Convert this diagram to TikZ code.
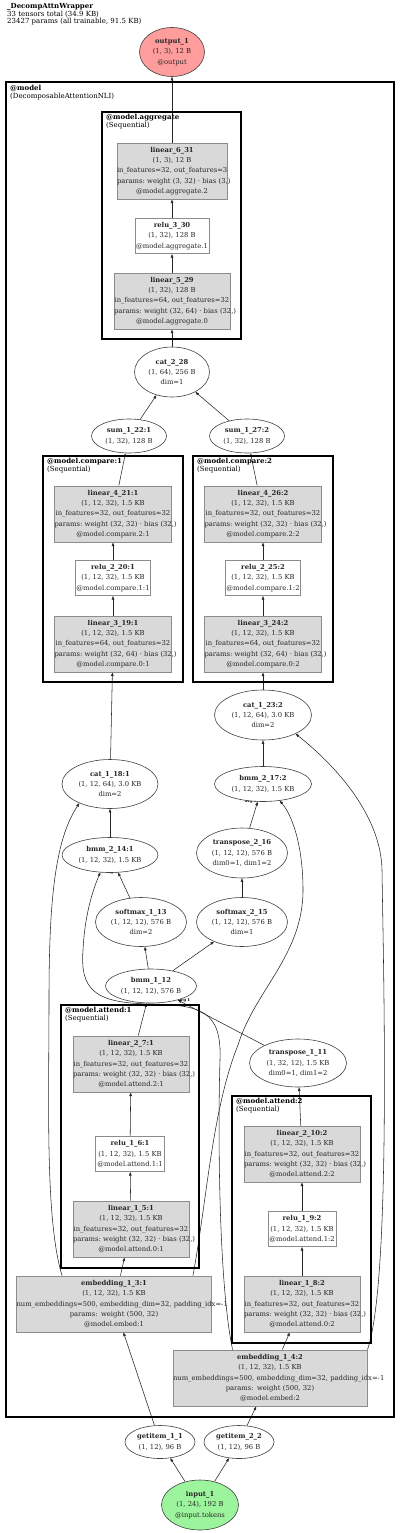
\documentclass[tikz,border=0pt]{standalone}
\usepackage{fontspec}
\setmainfont{DejaVu Serif}
\usetikzlibrary{positioning, arrows.meta, shapes.geometric, backgrounds}
\definecolor{outred}{HTML}{FF9C9C}
\definecolor{ingreen}{HTML}{9CF59C}
\definecolor{layergray}{HTML}{D9D9D9}
\definecolor{layerline}{HTML}{8C8C8C}
\definecolor{inktext}{HTML}{262626}
\hyphenpenalty=10000
\exhyphenpenalty=10000

\begin{document}
\begin{tikzpicture}[
    x=1pt, y=-1pt,
    every node/.style={font=\fontsize{6.8}{10.3}\selectfont, text=inktext},
    tensor/.style={ellipse, draw=black!75, line width=0.6pt, fill=white, inner xsep=-12pt, inner ysep=0pt, align=center},
    layer/.style={draw=layerline, line width=0.9pt, fill=layergray, inner sep=0pt, align=center, minimum height=56pt},
    act/.style={layer, fill=white, minimum height=35pt},
    cluster/.style={draw=black, line width=1.8pt},
    clabel/.style={anchor=north west, inner sep=0pt, align=left, font=\fontsize{7}{7.7}\selectfont, text=black},
    flow/.style={-{Triangle[length=3.6pt, width=2.6pt]}, line width=0.55pt, draw=black!85},
    argl/.style={font=\fontsize{4}{4}\selectfont\bfseries, inner sep=0.5pt, text=black},
  ]
  \useasboundingbox (0,0) rectangle (400,1533);

  % Header
  \node[clabel] (title) at (7,3) {\textbf{\_DecompAttnWrapper}\\33 tensors total (34.9 KB)\\23427 params (all trainable, 91.5 KB)};

  % Module boxes
  \draw[cluster, line width=2.4pt] (6,82) rectangle (394,1417);
  \draw[cluster] (102,112) rectangle (241,339);
  \draw[cluster] (43,456) rectangle (183,682);
  \draw[cluster] (193,456) rectangle (333,682);
  \draw[cluster] (61,1005) rectangle (199,1268);
  \draw[cluster] (232,1096) rectangle (371,1343);
  \node[clabel] (modelL) at (10,85) {\textbf{@model}\\(DecomposableAttentionNLI)};
  \node[clabel] (aggL) at (106,114) {\textbf{@model.aggregate}\\(Sequential)};
  \node[clabel] (cmp1L) at (47,458) {\textbf{@model.compare:1}\\(Sequential)};
  \node[clabel] (cmp2L) at (197,458) {\textbf{@model.compare:2}\\(Sequential)};
  \node[clabel] (att1L) at (65,1007) {\textbf{@model.attend:1}\\(Sequential)};
  \node[clabel] (att2L) at (236,1098) {\textbf{@model.attend:2}\\(Sequential)};

  % Tensors
  \node[tensor, fill=outred, minimum width=65pt, minimum height=49pt] (out1) at (172,52) {\textbf{output\_1}\\(1, 3), 12 B\\@output};
  \node[layer, text width=110pt] (lin631) at (172,171) {\textbf{linear\_6\_31}\\(1, 3), 12 B\\in\_features=32,~out\_features=3\\params:~weight~(3,~32)~·~bias~(3,)\\@model.aggregate.2};
  \node[act, text width=74pt] (relu330) at (172,236) {\textbf{relu\_3\_30}\\(1, 32), 128 B\\@model.aggregate.1};
  \node[layer, text width=116pt] (lin529) at (172,301) {\textbf{linear\_5\_29}\\(1, 32), 128 B\\in\_features=64,~out\_features=32\\params:~weight~(32,~64)~·~bias~(32,)\\@model.aggregate.0};
  \node[tensor, minimum width=75pt, minimum height=50pt] (cat228) at (172,372) {\textbf{cat\_2\_28}\\(1, 64), 256 B\\dim=1};
  \node[tensor, minimum width=75pt, minimum height=34pt] (sum122) at (129,436) {\textbf{sum\_1\_22:1}\\(1, 32), 128 B};
  \node[tensor, minimum width=75pt, minimum height=34pt] (sum127) at (247,436) {\textbf{sum\_1\_27:2}\\(1, 32), 128 B};

  \node[layer, text width=117pt] (lin421) at (113,514) {\textbf{linear\_4\_21:1}\\(1, 12, 32), 1.5 KB\\in\_features=32,~out\_features=32\\params:~weight~(32,~32)~·~bias~(32,)\\@model.compare.2:1};
  \node[act, text width=75pt] (relu220) at (113,578) {\textbf{relu\_2\_20:1}\\(1,~12,~32),~1.5~KB\\@model.compare.1:1};
  \node[layer, text width=117pt] (lin319) at (113,644) {\textbf{linear\_3\_19:1}\\(1, 12, 32), 1.5 KB\\in\_features=64,~out\_features=32\\params:~weight~(32,~64)~·~bias~(32,)\\@model.compare.0:1};
  \node[layer, text width=117pt] (lin426) at (263,514) {\textbf{linear\_4\_26:2}\\(1, 12, 32), 1.5 KB\\in\_features=32,~out\_features=32\\params:~weight~(32,~32)~·~bias~(32,)\\@model.compare.2:2};
  \node[act, text width=75pt] (relu225) at (263,578) {\textbf{relu\_2\_25:2}\\(1,~12,~32),~1.5~KB\\@model.compare.1:2};
  \node[layer, text width=117pt] (lin324) at (263,644) {\textbf{linear\_3\_24:2}\\(1, 12, 32), 1.5 KB\\in\_features=64,~out\_features=32\\params:~weight~(32,~64)~·~bias~(32,)\\@model.compare.0:2};

  \node[tensor, minimum width=97pt, minimum height=50pt] (cat123) at (263,715) {\textbf{cat\_1\_23:2}\\(1, 12, 64), 3.0 KB\\dim=2};
  \node[tensor, minimum width=96pt, minimum height=49pt] (cat118) at (110,784) {\textbf{cat\_1\_18:1}\\(1, 12, 64), 3.0 KB\\dim=2};
  \node[tensor, minimum width=97pt, minimum height=35pt] (bmm217) at (263,784) {\textbf{bmm\_2\_17:2}\\(1, 12, 32), 1.5 KB};
  \node[tensor, minimum width=96pt, minimum height=35pt] (bmm214) at (110,855) {\textbf{bmm\_2\_14:1}\\(1, 12, 32), 1.5 KB};
  \node[tensor, minimum width=91pt, minimum height=50pt] (tr216) at (242,853) {\textbf{transpose\_2\_16}\\(1, 12, 12), 576 B\\dim0=1, dim1=2};
  \node[tensor, minimum width=91pt, minimum height=49pt] (sm113) at (141,922) {\textbf{softmax\_1\_13}\\(1, 12, 12), 576 B\\dim=2};
  \node[tensor, minimum width=91pt, minimum height=49pt] (sm215) at (242,922) {\textbf{softmax\_2\_15}\\(1, 12, 12), 576 B\\dim=1};
  \node[tensor, minimum width=91pt, minimum height=34pt] (bmm112) at (151,986) {\textbf{bmm\_1\_12}\\(1, 12, 12), 576 B};

  \node[layer, text width=116pt] (lin27) at (131,1064) {\textbf{linear\_2\_7:1}\\(1, 12, 32), 1.5 KB\\in\_features=32,~out\_features=32\\params:~weight~(32,~32)~·~bias~(32,)\\@model.attend.2:1};
  \node[act, text width=69pt] (relu16) at (130,1154) {\textbf{relu\_1\_6:1}\\(1,~12,~32),~1.5~KB\\@model.attend.1:1};
  \node[layer, text width=116pt] (lin15) at (131,1229) {\textbf{linear\_1\_5:1}\\(1, 12, 32), 1.5 KB\\in\_features=32,~out\_features=32\\params:~weight~(32,~32)~·~bias~(32,)\\@model.attend.0:1};
  \node[layer, text width=195pt] (emb13) at (114,1304) {\textbf{embedding\_1\_3:1}\\(1, 12, 32), 1.5 KB\\num\_embeddings=500,~embedding\_dim=32,~padding\_idx=-1\\params: weight (500, 32)\\@model.embed:1};

  \node[tensor, minimum width=97pt, minimum height=48pt] (tr111) at (298,1063) {\textbf{transpose\_1\_11}\\(1, 32, 12), 1.5 KB\\dim0=1, dim1=2};
  \node[layer, text width=116pt] (lin210) at (302,1154) {\textbf{linear\_2\_10:2}\\(1, 12, 32), 1.5 KB\\in\_features=32,~out\_features=32\\params:~weight~(32,~32)~·~bias~(32,)\\@model.attend.2:2};
  \node[act, text width=68pt] (relu19) at (302,1229) {\textbf{relu\_1\_9:2}\\(1,~12,~32),~1.5~KB\\@model.attend.1:2};
  \node[layer, text width=116pt] (lin18) at (302,1304) {\textbf{linear\_1\_8:2}\\(1, 12, 32), 1.5 KB\\in\_features=32,~out\_features=32\\params:~weight~(32,~32)~·~bias~(32,)\\@model.attend.0:2};
  \node[layer, text width=194pt] (emb14) at (270,1378) {\textbf{embedding\_1\_4:2}\\(1, 12, 32), 1.5 KB\\num\_embeddings=500,~embedding\_dim=32,~padding\_idx=-1\\params: weight (500, 32)\\@model.embed:2};

  \node[tensor, minimum width=70pt, minimum height=33pt] (get11) at (160,1442) {\textbf{getitem\_1\_1}\\(1, 12), 96 B};
  \node[tensor, minimum width=70pt, minimum height=33pt] (get22) at (239,1442) {\textbf{getitem\_2\_2}\\(1, 12), 96 B};
  \node[tensor, fill=ingreen, minimum width=77pt, minimum height=50pt] (in1) at (200,1505) {\textbf{input\_1}\\(1, 24), 192 B\\@input.tokens};

  % Arrows
  \begin{scope}[on background layer]
    \draw[flow] (in1) -- (get11);
    \draw[flow] (in1) -- (get22);
    \draw[flow] (get11) -- (emb13);
    \draw[flow] (get22) -- (emb14);
    \draw[flow] (emb13) -- (lin15);
    \draw[flow] (lin15) -- (relu16);
    \draw[flow] (relu16) -- (lin27);
    \draw[flow] (lin27) -- (bmm112);
    \draw[flow] (emb14) -- (lin18);
    \draw[flow] (lin18) -- (relu19);
    \draw[flow] (relu19) -- (lin210);
    \draw[flow] (lin210) -- (tr111);
    \draw[flow] (tr111) -- (bmm112) node[argl, at end, anchor=west] {arg 1};
    \draw[flow] (bmm112) -- (sm113);
    \draw[flow] (bmm112) -- (sm215);
    \draw[flow] (sm113) -- (bmm214) node[argl, at end, anchor=east] {arg 0};
    \draw[flow] (sm215) -- (tr216);
    \draw[flow] (tr216) -- (bmm217) node[argl, at end, anchor=east] {arg 0};
    \draw[flow] (bmm214) -- (cat118);
    \draw[flow] (bmm217) -- (cat123);
    \draw[flow] (cat118) -- (lin319);
    \draw[flow] (cat123) -- (lin324);
    \draw[flow] (lin319) -- (relu220);
    \draw[flow] (relu220) -- (lin421);
    \draw[flow] (lin324) -- (relu225);
    \draw[flow] (relu225) -- (lin426);
    \draw[flow] (lin421) -- (sum122);
    \draw[flow] (lin426) -- (sum127);
    \draw[flow] (sum122) -- (cat228);
    \draw[flow] (sum127) -- (cat228);
    \draw[flow] (cat228) -- (lin529);
    \draw[flow] (lin529) -- (relu330);
    \draw[flow] (relu330) -- (lin631);
    \draw[flow] (lin631) -- (out1);
    % long skips
    \draw[flow] ([xshift=46pt]emb13.north west) .. controls (45,1220) and (49,1100) .. (49,1000) .. controls (49,900) and (55,840) .. (cat118.212);
    \draw[flow] ([xshift=-19pt]emb13.north east) .. controls (207,1200) and (212,1110) .. (238,1045) .. controls (255,990) and (303,955) .. (303,890) .. controls (303,845) and (292,815) .. (bmm217.315);
    \draw[flow] ([xshift=60pt]emb14.north west) .. controls (218,1280) and (218,1120) .. (220,1060) .. controls (222,1010) and (200,1005) .. (150,1004) .. controls (95,1003) and (80,990) .. (83,950) .. controls (85,910) and (95,885) .. (bmm214.241);
    \draw[flow] (emb14.north east) .. controls (392,1280) and (383,950) .. (382,870) .. controls (381,815) and (335,765) .. (cat123.330);
  \end{scope}
\end{tikzpicture}
\end{document}
